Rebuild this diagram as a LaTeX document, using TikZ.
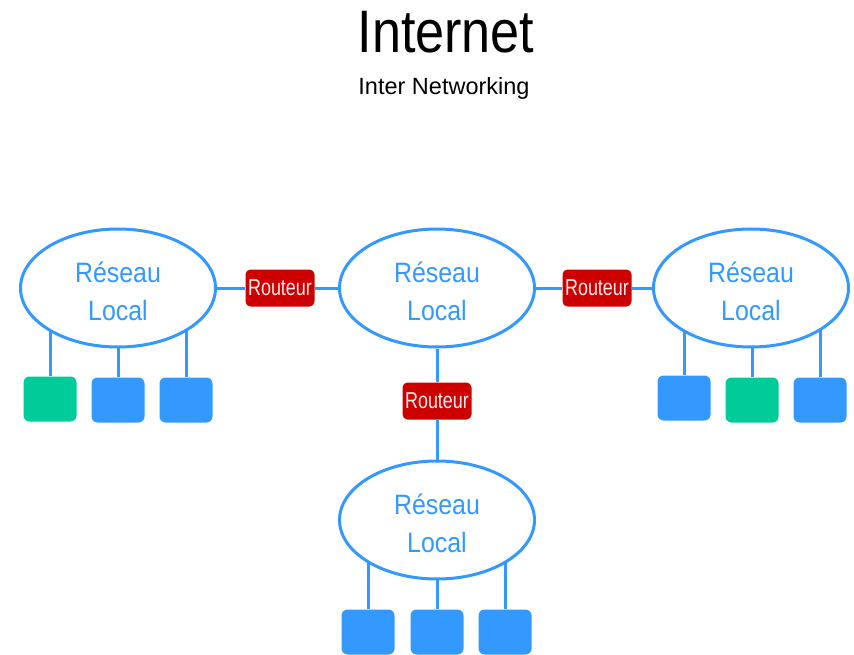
\documentclass[tikz,border=0pt]{standalone}
\usepackage{fontspec}
\setmainfont{Liberation Sans}
\newfontfamily\titlefont[FakeStretch=0.87]{Liberation Sans}
\newfontfamily\netfont[FakeStretch=0.89]{Liberation Sans}
\newfontfamily\routfont[FakeStretch=0.78]{Liberation Sans}
\usetikzlibrary{shapes.geometric}
\definecolor{netblue}{HTML}{3399FF}
\definecolor{netgreen}{HTML}{00CC99}
\definecolor{netred}{HTML}{CC0000}
\pgfdeclarelayer{bg}
\pgfsetlayers{bg,main}
\newcommand{\lantext}{\rule{0pt}{27pt}Réseau\\Local}
\begin{document}
\begin{tikzpicture}[x=1pt,y=-1pt,
  lan/.style={ellipse, draw=netblue, line width=3pt, fill=white, minimum width=195pt, minimum height=118pt, inner sep=0pt, align=center, text=netblue, font=\netfont\fontsize{28}{38}\selectfont},
  router/.style={rectangle, rounded corners=5pt, fill=netred, minimum width=69pt, minimum height=37pt, inner sep=0pt, text=red!8!white, font=\routfont\fontsize{23}{23}\selectfont},
  dev/.style={rectangle, rounded corners=6pt, minimum width=53pt, minimum height=45pt, inner sep=0pt},
  bdev/.style={dev, fill=netblue},
  gdev/.style={dev, fill=netgreen},
  link/.style={draw=netblue, line width=3pt}]
\useasboundingbox (0,0) rectangle (854,655);
% title
\node[anchor=base, inner sep=0pt, font=\titlefont\fontsize{60}{60}\selectfont] (title) at (446,53) {Internet};
\node[anchor=base, inner sep=0pt, font=\fontsize{23.5}{24}\selectfont] (sub) at (444,95) {Inter Networking};
% LANs
\node[lan] (L) at (118,288) {\lantext};
\node[lan] (C) at (437,288) {\lantext};
\node[lan] (R) at (751,288) {\lantext};
\node[lan] (B) at (437,520) {\lantext};
% routers
\node[router] (r1) at (280,288) {Routeur};
\node[router] (r2) at (597,288) {Routeur};
\node[router] (r3) at (437,401) {Routeur};
% devices
\node[gdev] (l1) at (50,399) {};
\node[bdev] (l2) at (118,400) {};
\node[bdev] (l3) at (186,400) {};
\node[bdev] (rr1) at (684,398) {};
\node[gdev] (rr2) at (752,400) {};
\node[bdev] (rr3) at (820,400) {};
\node[bdev] (b1) at (368,632) {};
\node[bdev] (b2) at (437,632) {};
\node[bdev] (b3) at (505,632) {};
\begin{pgfonlayer}{bg}
\draw[link] (L) -- (r1);
\draw[link] (r1) -- (C);
\draw[link] (C) -- (r2);
\draw[link] (r2) -- (R);
\draw[link] (C) -- (r3);
\draw[link] (r3) -- (B);
\foreach \d/\n in {l1/L,l2/L,l3/L,rr1/R,rr2/R,rr3/R,b1/B,b2/B,b3/B}
  \draw[link] (\d.north) -- (\d.north |- \n.center);
\end{pgfonlayer}
\end{tikzpicture}
\end{document}
